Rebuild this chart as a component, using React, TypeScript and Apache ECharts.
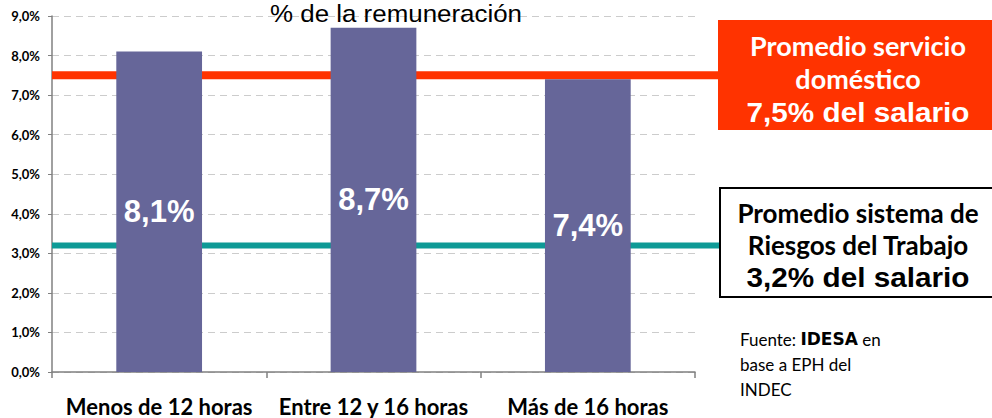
import React, { useEffect, useRef } from "react";
import * as echarts from "echarts";

const categories = ["Menos de 12 horas", "Entre 12 y 16 horas", "Más de 16 horas"];
const values = [8.1, 8.7, 7.4];
const yTicks = { min: 0, max: 9, interval: 1 };
const avgDomestic = 7.5;
const avgRiesgos = 3.2;
const titleText = "% de la remuneración";
const box1Lines = ["Promedio servicio", "doméstico", "7,5% del salario"];
const box2Lines = ["Promedio sistema de", "Riesgos del Trabajo", "3,2% del salario"];

const fmt = (v: number, d = 1) => v.toFixed(d).replace(".", ",") + "%";

const GRID_LEFT = 52;
const GRID_RIGHT = 297;
const GRID_TOP = 16;
const GRID_BOTTOM = 46;

export default function App() {
  const ref = useRef<HTMLDivElement>(null);
  useEffect(() => {
    document.body.style.margin = "0";
    if (!ref.current) return;
    const chart = echarts.init(ref.current, undefined, { renderer: "svg" });
    const option: any = {
      animation: false,
      backgroundColor: "#ffffff",
      grid: { left: GRID_LEFT, right: GRID_RIGHT, top: GRID_TOP, bottom: GRID_BOTTOM, containLabel: false },
      xAxis: {
        type: "category",
        data: categories,
        axisLine: { lineStyle: { color: "#808080", width: 1.5 } },
        axisTick: { show: true, alignWithLabel: false, length: 6, lineStyle: { color: "#808080", width: 1.5 } },
        axisLabel: {
          interval: 0,
          margin: 23,
          color: "#000",
          fontFamily: "Lato",
          fontWeight: "bold",
          fontSize: 22,
        },
      },
      yAxis: {
        type: "value",
        min: yTicks.min,
        max: yTicks.max,
        interval: yTicks.interval,
        axisLine: { show: true, lineStyle: { color: "#808080", width: 1.5 } },
        axisTick: { show: true, length: 4, lineStyle: { color: "#808080" } },
        axisLabel: {
          formatter: (v: number) => fmt(v),
          color: "#000",
          fontFamily: "Lato",
          fontWeight: "bold",
          fontSize: 13,
          margin: 12,
        },
        splitLine: { show: true, lineStyle: { color: "#cccccc", type: [7, 5], width: 1 } },
      },
      series: [
        {
          type: "bar",
          data: values,
          barWidth: "40%",
          z: 3,
          itemStyle: { color: "#666699" },
          label: {
            show: true,
            position: "inside",
            formatter: (p: any) => fmt(p.value),
            color: "#ffffff",
            fontFamily: "Liberation Sans, Arial",
            fontWeight: "bold",
            fontSize: 31,
          },
        },
      ],
    };
    chart.setOption(option);

    const yRed = chart.convertToPixel({ yAxisIndex: 0 }, avgDomestic) as number;
    const yTeal = chart.convertToPixel({ yAxisIndex: 0 }, avgRiesgos) as number;

    const calibri = "Lato";
    const arialB = "Liberation Sans";
    const cx = 858;

    const graphic: any[] = [
      {
        type: "text",
        x: 396,
        y: 13,
        z: 10,
        scaleX: 1.08,
        style: {
          text: titleText,
          fontFamily: "Liberation Sans",
          fontSize: 24,
          fill: "#000",
          align: "center",
          verticalAlign: "middle",
        },
      },
      {
        type: "line",
        z: 1,
        shape: { x1: GRID_LEFT, y1: yRed, x2: 720, y2: yRed },
        style: { stroke: "#FF3300", lineWidth: 8 },
      },
      {
        type: "line",
        z: 1,
        shape: { x1: GRID_LEFT, y1: yTeal, x2: 728, y2: yTeal },
        style: { stroke: "#0E9A96", lineWidth: 6 },
      },
      {
        type: "rect",
        z: 5,
        shape: { x: 718, y: 20, width: 290, height: 110 },
        style: { fill: "#FF3300" },
      },
      {
        type: "text",
        z: 6,
        x: cx,
        y: 45,
        style: { text: box1Lines[0], fontFamily: calibri, fontWeight: "bold", fontSize: 27, fill: "#fff", align: "center", verticalAlign: "middle" },
      },
      {
        type: "text",
        z: 6,
        x: cx,
        y: 78,
        style: { text: box1Lines[1], fontFamily: calibri, fontWeight: "bold", fontSize: 27, fill: "#fff", align: "center", verticalAlign: "middle" },
      },
      {
        type: "text",
        z: 6,
        x: cx,
        y: 112,
        scaleX: 1.1,
        style: { text: box1Lines[2], fontFamily: arialB, fontWeight: "bold", fontSize: 27, fill: "#fff", align: "center", verticalAlign: "middle" },
      },
      {
        type: "rect",
        z: 5,
        shape: { x: 720, y: 188, width: 300, height: 109 },
        style: { fill: "#ffffff", stroke: "#000000", lineWidth: 2 },
      },
      {
        type: "text",
        z: 6,
        x: cx,
        y: 213,
        style: { text: box2Lines[0], fontFamily: calibri, fontWeight: "bold", fontSize: 26, fill: "#000", align: "center", verticalAlign: "middle" },
      },
      {
        type: "text",
        z: 6,
        x: cx,
        y: 245,
        style: { text: box2Lines[1], fontFamily: calibri, fontWeight: "bold", fontSize: 26, fill: "#000", align: "center", verticalAlign: "middle" },
      },
      {
        type: "text",
        z: 6,
        x: cx,
        y: 277,
        scaleX: 1.1,
        style: { text: box2Lines[2], fontFamily: arialB, fontWeight: "bold", fontSize: 27, fill: "#000", align: "center", verticalAlign: "middle" },
      },
      {
        type: "text",
        z: 6,
        x: 740,
        y: 339,
        style: {
          text: "{a|Fuente: }{b|IDESA}{a| en}",
          verticalAlign: "middle",
          rich: {
            a: { fontFamily: calibri, fontSize: 17, fill: "#000" },
            b: { fontFamily: "DejaVu Sans", fontWeight: 900, fontSize: 17, fill: "#000" },
          },
        },
      },
      {
        type: "text",
        z: 6,
        x: 740,
        y: 364,
        style: { text: "base a EPH del", fontFamily: calibri, fontSize: 17, fill: "#000", verticalAlign: "middle" },
      },
      {
        type: "text",
        z: 6,
        x: 740,
        y: 389,
        style: { text: "INDEC", fontFamily: calibri, fontSize: 17, fill: "#000", verticalAlign: "middle" },
      },
    ];
    chart.setOption({ graphic });

    return () => chart.dispose();
  }, []);
  return <div ref={ref} style={{ width: 992, height: 418 }} />;
}
